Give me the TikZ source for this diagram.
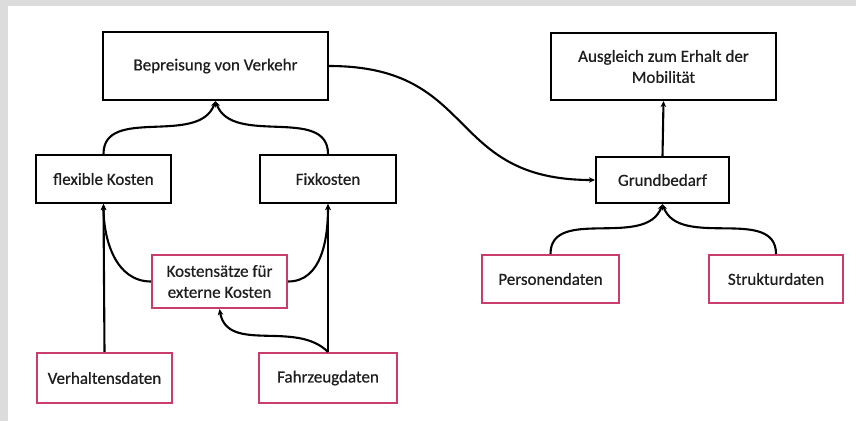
\documentclass[tikz,border=0pt]{standalone}
\usepackage{fontspec}
\setmainfont{Carlito}[FakeBold=0.6]
\usetikzlibrary{arrows.meta}
\definecolor{frame}{HTML}{DCDCDC}
\definecolor{pinkc}{HTML}{C83C6E}
\definecolor{txt}{HTML}{1E1E1E}
\begin{document}
\begin{tikzpicture}[x=1pt,y=-1pt,
  box/.style={draw=black,line width=2.1pt,rectangle,align=center,text=txt,
    font=\fontsize{17}{21}\selectfont,inner sep=0pt},
  pbox/.style={box,draw=pinkc},
  conn/.style={line width=2.1pt,draw=black,-{Stealth[length=6pt,width=5.5pt]}}]
\fill[frame] (0,0) rectangle (856,421);
\fill[white] (8,6) rectangle (856,421);
\useasboundingbox (0,0) rectangle (856,421);

\node[box,minimum width=225pt,minimum height=68pt] (bep) at (215.5,66) {Bepreisung von Verkehr};
\node[box,minimum width=135pt,minimum height=48pt] (flex) at (103.5,179) {flexible Kosten};
\node[box,minimum width=136pt,minimum height=48pt] (fix) at (328,179) {Fixkosten};
\node[pbox,minimum width=135pt,minimum height=53pt] (kost) at (219.5,281.5) {Kostensätze für\\externe Kosten};
\node[pbox,minimum width=135pt,minimum height=50pt] (verh) at (104.5,378) {Verhaltensdaten};
\node[pbox,minimum width=138pt,minimum height=50pt] (fahr) at (328,378) {Fahrzeugdaten};
\node[box,minimum width=225pt,minimum height=67pt] (ausg) at (663.5,66.5) {Ausgleich zum Erhalt der\\Mobilität};
\node[box,minimum width=133pt,minimum height=46pt] (grund) at (662.5,180) {Grundbedarf};
\node[pbox,minimum width=137pt,minimum height=48pt] (pers) at (550.5,279) {Personendaten};
\node[pbox,minimum width=134pt,minimum height=48pt] (strukt) at (776,279) {Strukturdaten};

% left tree
\draw[conn] (flex.north) to[out=90,in=-110] (bep.south);
\draw[conn] (fix.north) to[out=90,in=-70] (bep.south);
\draw[conn] (verh.north) -- (flex.south);
\draw[conn] (fahr.north) -- (fix.south);
\draw[conn] (kost.west) to[out=180,in=-90] (flex.south);
\draw[conn] (kost.east) to[out=0,in=-90] (fix.south);
\draw[conn] (fahr.north) to[out=135,in=-80] (kost.south);
% right tree
\draw[conn] (bep.east) .. controls +(150,0) and +(-150,0) .. (grund.west);
\draw[conn] (grund.north) -- (ausg.south);
\draw[conn] (pers.north) to[out=90,in=-110] (grund.south);
\draw[conn] (strukt.north) to[out=90,in=-70] (grund.south);
\end{tikzpicture}
\end{document}
